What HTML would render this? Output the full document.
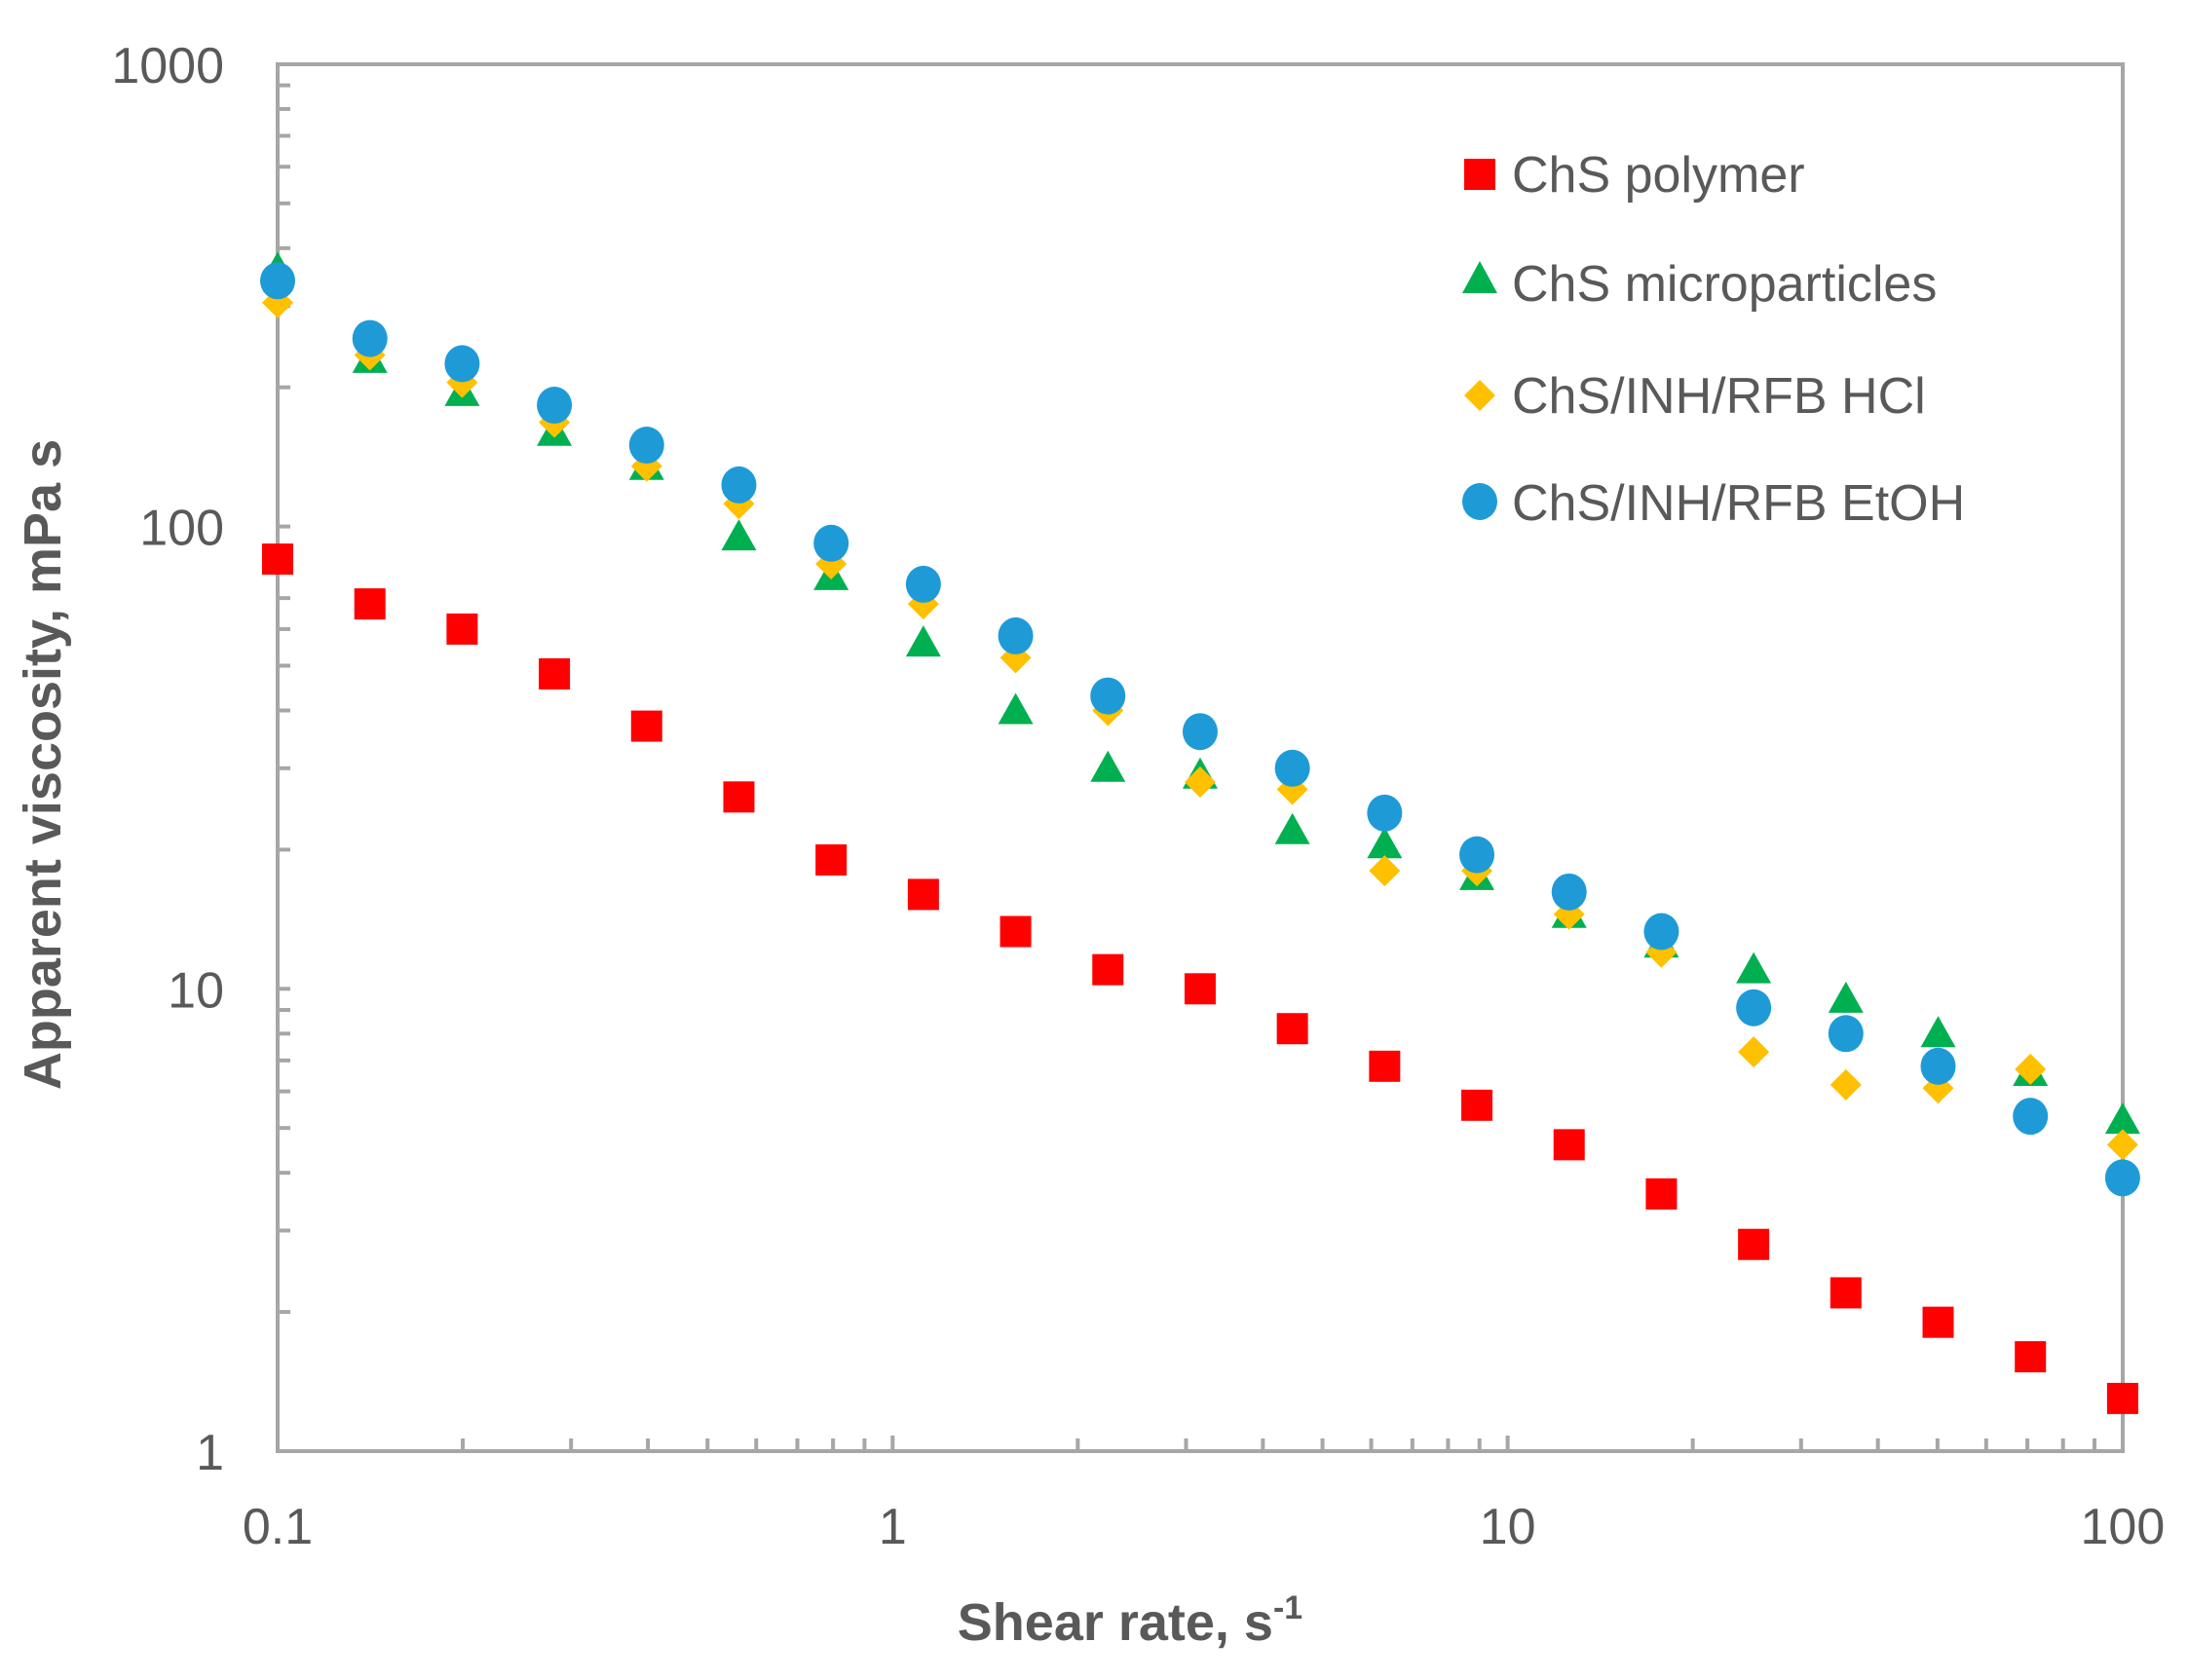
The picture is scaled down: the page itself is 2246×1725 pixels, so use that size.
<!DOCTYPE html>
<html><head><meta charset="utf-8"><style>
html,body{margin:0;padding:0;background:#fff}
svg{display:block}
text{font-family:"Liberation Sans",sans-serif;fill:#595959}
</style></head><body>
<svg id="s" width="2246" height="1725" viewBox="0 0 2246 1725" xmlns="http://www.w3.org/2000/svg">
<rect width="2246" height="1725" fill="#fff"/>
<g id="ax" stroke="#A6A6A6" stroke-width="4" fill="none">
<rect x="285" y="66" width="1894" height="1424"/>
</g>
<g id="lbl" font-size="52"></g>
<text x="1160" y="1684" font-size="54" font-weight="bold" text-anchor="middle">Shear rate, s<tspan font-size="34" dy="-22">-1</tspan></text>
<text transform="translate(62,785) rotate(-90)" font-size="54" font-weight="bold" text-anchor="middle">Apparent viscosity, mPa s</text>
<g id="pts"></g>
<g id="leg">
<rect x="1503" y="163" width="32" height="32" fill="#FF0000"/>
<polygon points="1519,256 1537,289 1501,289" fill="#00B050" transform="translate(0,12)"/>
<polygon points="1519,390 1535,406 1519,422 1503,406" fill="#FFC000"/>
<ellipse cx="1519" cy="515" rx="18" ry="19" fill="#1E9BD7"/>
<text x="1552" y="197" font-size="52">ChS polymer</text>
<text x="1552" y="309" font-size="52">ChS microparticles</text>
<text x="1552" y="424" font-size="52">ChS/INH/RFB HCl</text>
<text x="1552" y="534" font-size="52">ChS/INH/RFB EtOH</text>
</g>
</svg>
<script>
var NS="http://www.w3.org/2000/svg";
function X(v){return 285+(Math.log10(v)+1)*631.3;}
function Y(v){return 1490-Math.log10(v)*474.7;}
var ax=document.getElementById('ax'),lbl=document.getElementById('lbl'),pts=document.getElementById('pts');
function el(p,t,a){var e=document.createElementNS(NS,t);for(var k in a)e.setAttribute(k,a[k]);p.appendChild(e);return e;}
for(var d=0;d<3;d++)for(var m=2;m<=9;m++){var y=Y(Math.pow(10,d)*m);el(ax,'line',{x1:285,x2:298,y1:y,y2:y});}
for(var d=-1;d<2;d++)for(var m=2;m<=9;m++){var x=X(Math.pow(10,d)*m);el(ax,'line',{x1:x,x2:x,y1:1490,y2:1477});}
[1,10,100].forEach(function(v){var y=Y(v);el(ax,'line',{x1:285,x2:298,y1:y,y2:y});});
[1,10].forEach(function(v){var x=X(v);el(ax,'line',{x1:x,x2:x,y1:1490,y2:1474});});
[[1,'1'],[10,'10'],[100,'100'],[1000,'1000']].forEach(function(p){var t=el(lbl,'text',{x:230,y:Y(p[0])+19,'text-anchor':'end'});t.textContent=p[1];});
[[0.1,'0.1'],[1,'1'],[10,'10'],[100,'100']].forEach(function(p){var t=el(lbl,'text',{x:X(p[0]),y:1585,'text-anchor':'middle'});t.textContent=p[1];});
var xs=[];for(var i=0;i<21;i++)xs.push(Math.pow(10,-1+i*0.15));
var red=[85,68,60,48,37,26,19,16,13.3,11,10,8.2,6.8,5.6,4.6,3.6,2.8,2.2,1.9,1.6,1.3];
var grn=[360,230,195,160,135,95,78,56,40,30,29,22,20.5,17.5,14.5,12.5,11,9.5,8,6.6,5.2];
var yel=[305,235,205,168,135,112,83,68,52,40,28,27,18,18,14.5,12,7.3,6.2,6.1,6.7,4.6];
var blu=[340,255,225,183,150,123,92,75,58,43,36,30,24,19.5,16.2,13.3,9.1,8,6.8,5.3,3.9];
xs.forEach(function(v,i){var x=X(v),y=Y(red[i]);el(pts,'rect',{x:x-16,y:y-16,width:32,height:32,fill:'#FF0000'});});
xs.forEach(function(v,i){var x=X(v),y=Y(grn[i]);el(pts,'polygon',{points:(x)+','+(y-18)+' '+(x+18)+','+(y+14)+' '+(x-18)+','+(y+14),fill:'#00B050'});});
xs.forEach(function(v,i){var x=X(v),y=Y(yel[i]);el(pts,'polygon',{points:x+','+(y-16)+' '+(x+16)+','+y+' '+x+','+(y+16)+' '+(x-16)+','+y,fill:'#FFC000'});});
xs.forEach(function(v,i){var x=X(v),y=Y(blu[i]);el(pts,'ellipse',{cx:x,cy:y,rx:18,ry:19,fill:'#1E9BD7'});});
</script>
</body></html>
